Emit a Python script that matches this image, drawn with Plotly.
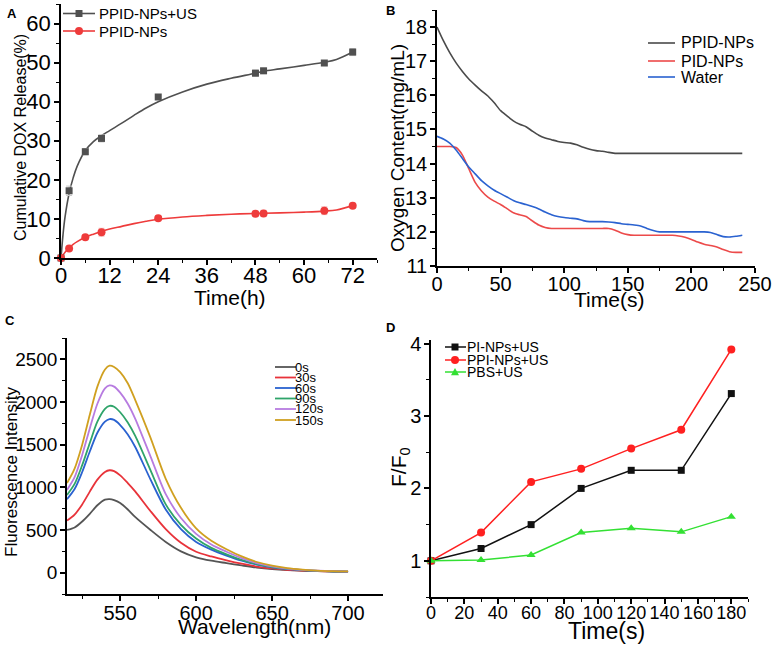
import plotly.graph_objects as go

W, H = 772, 645
FONT = "Arial, Liberation Sans, sans-serif"

# ---------------- Panel A: cumulative DOX release ----------------
timeA = [0, 2, 6, 10, 24, 48, 50, 65, 72]
releaseUS = [0, 17.2, 27.2, 30.6, 41.2, 47.3, 47.9, 49.9, 52.7]
releaseNoUS = [0, 2.4, 5.3, 6.6, 10.2, 11.3, 11.4, 12.1, 13.4]
errUS = [0, 1.2, 0.8, 0.9, 0.5, 0.8, 0.7, 0.6, 0.9]
errNoUS = [0, 0.5, 0.5, 1.0, 0.6, 0.7, 0.8, 1.0, 0.6]
fitTimeA = [0, 0.5, 1, 2, 3, 4, 6, 8, 10, 12, 15, 18, 21, 24, 30, 36, 42, 48, 50, 54, 60, 65, 68, 72]
fitUS = [0, 6, 10.5, 16.5, 20.5, 23.5, 27.5, 29.8, 31.3, 32.6, 34.5, 36.5, 38.4, 40.0, 42.5, 44.5,
         46.0, 47.3, 47.8, 48.4, 49.3, 50.1, 50.8, 52.7]
fitNoUS = [0, 0.8, 1.5, 2.6, 3.5, 4.2, 5.3, 6.1, 6.8, 7.4, 8.1, 8.8, 9.4, 9.9, 10.5, 10.9,
           11.2, 11.4, 11.45, 11.55, 11.75, 12.0, 12.3, 13.4]

# ---------------- Panel B: oxygen content ----------------
timeB = [0, 5, 10, 15, 20, 25, 30, 35, 40, 45, 50, 55, 60, 65, 70, 75, 80, 85, 90, 95, 100,
         105, 110, 115, 120, 125, 130, 135, 140, 145, 150, 155, 160, 165, 170, 175, 180, 185,
         190, 195, 200, 205, 210, 215, 220, 225, 230, 235, 240]
oxyPPID = [18.0, 17.6, 17.25, 16.95, 16.7, 16.48, 16.3, 16.13, 15.98, 15.78, 15.55, 15.4, 15.25,
           15.15, 15.08, 14.95, 14.83, 14.75, 14.7, 14.65, 14.62, 14.6, 14.55, 14.48, 14.42, 14.38,
           14.36, 14.33, 14.3, 14.3, 14.3, 14.3, 14.3, 14.3, 14.3, 14.3, 14.3, 14.3, 14.3, 14.3,
           14.3, 14.3, 14.3, 14.3, 14.3, 14.3, 14.3, 14.3, 14.3]
oxyPID = [14.5, 14.5, 14.5, 14.47, 14.25, 13.85, 13.45, 13.2, 13.02, 12.9, 12.8, 12.68, 12.56,
          12.5, 12.45, 12.32, 12.2, 12.13, 12.1, 12.1, 12.1, 12.1, 12.1, 12.1, 12.1, 12.1, 12.1,
          12.1, 12.05, 11.97, 11.92, 11.9, 11.9, 11.9, 11.9, 11.9, 11.9, 11.9, 11.88, 11.84, 11.78,
          11.7, 11.64, 11.6, 11.56, 11.48, 11.42, 11.4, 11.4]
oxyWater = [14.8, 14.72, 14.6, 14.4, 14.15, 13.9, 13.7, 13.5, 13.35, 13.22, 13.12, 13.02, 12.92,
            12.85, 12.8, 12.74, 12.67, 12.58, 12.5, 12.45, 12.42, 12.4, 12.38, 12.33, 12.3, 12.3,
            12.3, 12.29, 12.27, 12.24, 12.22, 12.2, 12.17, 12.1, 12.04, 12.0, 12.0, 12.0, 12.0,
            12.0, 12.0, 12.0, 12.0, 11.98, 11.92, 11.86, 11.85, 11.87, 11.9]

# ---------------- Panel C: fluorescence spectra ----------------
wavelength = [515, 520, 525, 530, 535, 540, 543, 546, 550, 555, 560, 570, 580, 590, 600, 610,
              620, 630, 640, 650, 660, 670, 680, 690, 700]
fl_0s = [500, 530, 600, 690, 790, 855, 862, 850, 815, 740, 650, 500, 360, 250, 180, 140, 112,
         85, 60, 42, 30, 22, 17, 13, 10]
fl_30s = [610, 680, 800, 950, 1090, 1180, 1200, 1190, 1140, 1050, 950, 720, 510, 350, 245, 190,
          145, 105, 72, 50, 34, 25, 19, 15, 12]
fl_60s = [860, 980, 1180, 1420, 1640, 1770, 1800, 1790, 1730, 1620, 1470, 1090, 740, 510, 360,
          270, 200, 140, 95, 63, 42, 29, 21, 16, 12]
fl_90s = [910, 1040, 1260, 1520, 1770, 1920, 1955, 1945, 1880, 1760, 1600, 1200, 800, 560, 400,
          290, 215, 150, 100, 66, 44, 30, 21, 16, 12]
fl_120s = [970, 1120, 1380, 1690, 1980, 2160, 2195, 2180, 2110, 1980, 1800, 1360, 920, 640, 455,
           330, 245, 170, 112, 74, 48, 33, 23, 17, 13]
fl_150s = [1050, 1220, 1500, 1850, 2180, 2380, 2425, 2410, 2350, 2220, 2020, 1580, 1100, 760,
           520, 375, 275, 190, 125, 82, 53, 36, 25, 18, 14]
specLabels = ["0s", "30s", "60s", "90s", "120s", "150s"]
specColors = ["#555555", "#e8333a", "#2a62d0", "#2fa46a", "#b77be0", "#d0a020"]

# ---------------- Panel D: F/F0 ----------------
timeD = [0, 30, 60, 90, 120, 150, 180]
ratioPI = [1.0, 1.17, 1.5, 2.0, 2.25, 2.25, 3.31]
ratioPPI = [1.0, 1.39, 2.09, 2.27, 2.55, 2.81, 3.92]
ratioPBS = [1.0, 1.01, 1.08, 1.39, 1.45, 1.40, 1.61]


def fx(x):
    return x / W


def fy(y):
    return 1 - y / H


fig = go.Figure()

# A
fig.add_trace(go.Scatter(x=fitTimeA, y=fitUS, mode="lines", line=dict(color="#505050", width=1.6, shape="spline"),
                         xaxis="x", yaxis="y", showlegend=False))
fig.add_trace(go.Scatter(x=fitTimeA, y=fitNoUS, mode="lines", line=dict(color="#ee3b3b", width=1.6, shape="spline"),
                         xaxis="x", yaxis="y", showlegend=False))
fig.add_trace(go.Scatter(x=timeA, y=releaseUS, mode="markers",
                         marker=dict(symbol="square", size=7, color="#505050"),
                         error_y=dict(type="data", array=errUS, color="#c8c8c8", thickness=1, width=3),
                         xaxis="x", yaxis="y", showlegend=False, cliponaxis=False))
fig.add_trace(go.Scatter(x=timeA, y=releaseNoUS, mode="markers",
                         marker=dict(symbol="circle", size=8, color="#ee3b3b"),
                         error_y=dict(type="data", array=errNoUS, color="#f4b8b8", thickness=1, width=3),
                         xaxis="x", yaxis="y", showlegend=False, cliponaxis=False))

# B
for yy, col in [(oxyPPID, "#4a4a4a"), (oxyPID, "#ec4a4a"), (oxyWater, "#2a62d0")]:
    fig.add_trace(go.Scatter(x=timeB, y=yy, mode="lines", line=dict(color=col, width=1.6, shape="spline", smoothing=0.6),
                             xaxis="x2", yaxis="y2", showlegend=False))

# C
for yy, col in zip([fl_0s, fl_30s, fl_60s, fl_90s, fl_120s, fl_150s], specColors):
    fig.add_trace(go.Scatter(x=wavelength, y=yy, mode="lines", line=dict(color=col, width=1.8, shape="spline", smoothing=0.8),
                             xaxis="x3", yaxis="y3", showlegend=False))

# D
fig.add_trace(go.Scatter(x=timeD, y=ratioPI, mode="lines+markers", line=dict(color="#111111", width=1.5),
                         marker=dict(symbol="square", size=7, color="#111111"),
                         xaxis="x4", yaxis="y4", showlegend=False, cliponaxis=False))
fig.add_trace(go.Scatter(x=timeD, y=ratioPPI, mode="lines+markers", line=dict(color="#ff2020", width=1.5),
                         marker=dict(symbol="circle", size=8, color="#ff2020"),
                         xaxis="x4", yaxis="y4", showlegend=False, cliponaxis=False))
fig.add_trace(go.Scatter(x=timeD, y=ratioPBS, mode="lines+markers", line=dict(color="#33e033", width=1.5),
                         marker=dict(symbol="triangle-up", size=8, color="#33e033"),
                         xaxis="x4", yaxis="y4", showlegend=False, cliponaxis=False))


def axis(dom, anchor, rng, dtick, tick0, minor_dtick, size, standoff):
    return dict(domain=dom, anchor=anchor, range=rng, dtick=dtick, tick0=tick0, automargin=False,
                tickangle=0, ticklabelstandoff=standoff, ticklabeloverflow="allow",
                showline=True, linecolor="black", linewidth=1.5, ticks="outside", ticklen=5,
                tickwidth=1.5, tickcolor="black", showgrid=False, zeroline=False,
                tickfont=dict(family=FONT, size=size, color="black"),
                minor=dict(dtick=minor_dtick, ticks="outside", ticklen=3, tickwidth=1.2, tickcolor="black"))


layout = dict(
    width=W, height=H, margin=dict(l=0, r=0, t=0, b=0, autoexpand=False),
    paper_bgcolor="white", plot_bgcolor="white", showlegend=False,
    xaxis=axis([fx(61), fx(377)], "y", [0, 78], 12, 0, 6, 22, -8),
    yaxis=axis([fy(258), fy(4)], "x", [0, 65], 10, 0, 5, 22, -1),
    xaxis2=axis([fx(437), fx(755)], "y2", [0, 250], 50, 0, 25, 20, -6),
    yaxis2=axis([fy(266), fy(10)], "x2", [11, 18.5], 1, 11, 0.5, 20, -1),
    xaxis3=axis([fx(67), fx(383)], "y3", [515, 723], 50, 500, 25, 20, -5),
    yaxis3=axis([fy(594), fy(338)], "x3", [-250, 2750], 500, 0, 250, 19, -1),
    xaxis4=axis([fx(431), fx(748)], "y4", [0, 190], 20, 0, 10, 18, -6),
    yaxis4=axis([fy(597), fy(340)], "x4", [0.5, 4.05], 1, 1, 0.5, 20, -1),
)
fig.update_layout(**layout)

annotations = []
shapes = []


def text(t, x, y, size, angle=0, xanchor="center", bold=False):
    annotations.append(dict(text=("<b>%s</b>" % t) if bold else t, x=fx(x), y=fy(y), xref="paper", yref="paper",
                            showarrow=False, textangle=angle, xanchor=xanchor, yanchor="middle",
                            font=dict(family=FONT, size=size, color="black")))


# panel letters
text("A", 11.5, 13, 13, bold=True)
text("B", 390, 11, 13, bold=True)
text("C", 10, 321, 13, bold=True)
text("D", 390, 327, 13, bold=True)

# axis titles
text("Time(h)", 230, 297, 21)
text("Cumulative DOX Release(%)", 20, 138, 16, angle=-90)
text("Time(s)", 609, 300, 21)
text("Oxygen Content(mg/mL)", 397, 148, 19, angle=-90)
text("Wavelength(nm)", 254, 626, 21)
text("Fluorescence Intensity", 11, 472, 17, angle=-90)
text("Time(s)", 606, 631, 23)
text("F/F<sub>0</sub>", 400, 467, 21, angle=-90)


def leg_line(x0, x1, y, color, width=1.6):
    shapes.append(dict(type="line", xref="paper", yref="paper", x0=fx(x0), x1=fx(x1), y0=fy(y), y1=fy(y),
                       line=dict(color=color, width=width)))


def leg_marker(kind, cx, cy, r, color):
    if kind == "square":
        shapes.append(dict(type="rect", xref="paper", yref="paper", x0=fx(cx - r), x1=fx(cx + r),
                           y0=fy(cy + r), y1=fy(cy - r), fillcolor=color, line=dict(width=0)))
    elif kind == "circle":
        shapes.append(dict(type="circle", xref="paper", yref="paper", x0=fx(cx - r), x1=fx(cx + r),
                           y0=fy(cy + r), y1=fy(cy - r), fillcolor=color, line=dict(width=0)))
    else:
        path = "M %f %f L %f %f L %f %f Z" % (fx(cx - r), fy(cy + r * 0.8), fx(cx + r), fy(cy + r * 0.8),
                                              fx(cx), fy(cy - r))
        shapes.append(dict(type="path", xref="paper", yref="paper", path=path, fillcolor=color,
                           line=dict(width=0)))


# legend A
for y, col, kind, lab in [(13.5, "#505050", "square", "PPID-NPs+US"), (31, "#ee3b3b", "circle", "PPID-NPs")]:
    leg_line(63, 95, y, col)
    leg_marker(kind, 79, y, 3.5 if kind == "square" else 4, col)
    text(lab, 97, y, 15, xanchor="left")

# legend B
for y, col, lab in [(43, "#4a4a4a", "PPID-NPs"), (61, "#ec4a4a", "PID-NPs"), (77, "#2a62d0", "Water")]:
    leg_line(648, 675, y, col)
    text(lab, 679, y, 16, xanchor="left")

# legend C
for y, col, lab in zip([367, 377.5, 388, 398.5, 409, 420], specColors, specLabels):
    leg_line(275, 296, y, col, 1.8)
    text(lab, 293, y, 13, xanchor="left")

# legend D
for y, col, kind, lab in [(347, "#111111", "square", "PI-NPs+US"), (360, "#ff2020", "circle", "PPI-NPs+US"),
                          (372, "#33e033", "triangle", "PBS+US")]:
    leg_line(445, 466, y, col, 1.5)
    leg_marker(kind, 455, y, 3.5 if kind == "square" else 4, col)
    text(lab, 465, y, 14, xanchor="left")

fig.update_layout(annotations=annotations, shapes=shapes)
# remove the default 8px page margin so the 772x645 figure fills the window exactly
fig.write_html("out.html", config={"displayModeBar": False},
               post_script="document.body.style.margin='0px';")
